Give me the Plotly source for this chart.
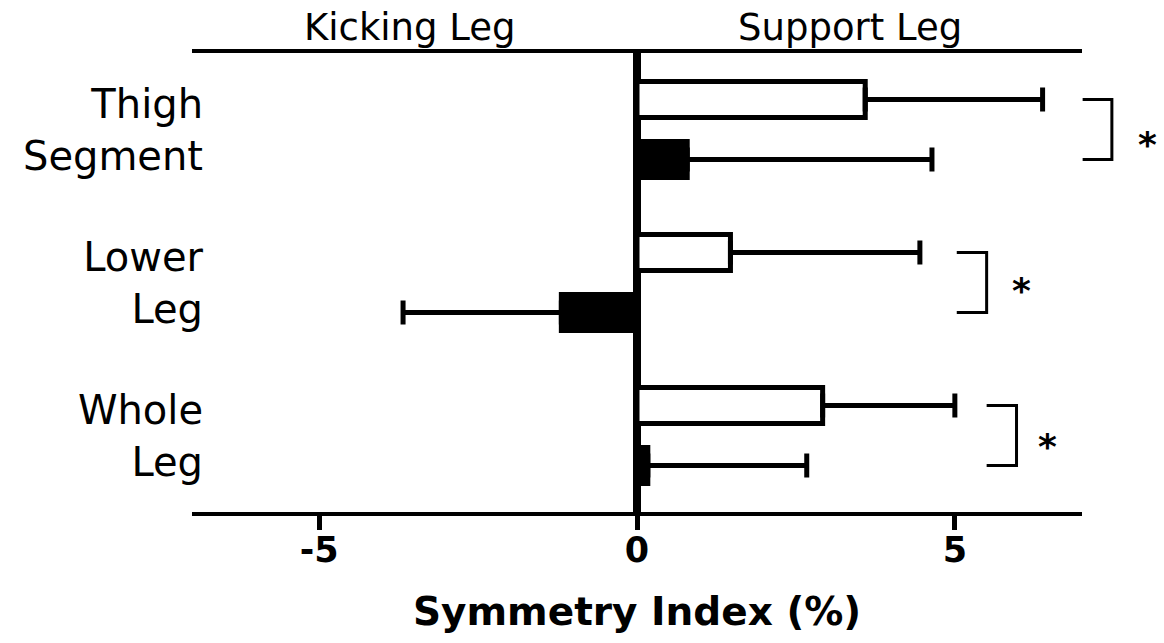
import plotly.graph_objects as go

# ---- data ----
categories = ["Thigh<br>Segment", "Lower<br>Leg", "Whole<br>Leg"]
white_vals = [3.59, 1.47, 2.92]
white_err_plus = [2.79, 2.98, 2.08]
white_err_minus = [0, 0, 0]
black_vals = [0.79, -1.19, 0.17]
black_err_plus = [3.85, 0, 2.50]
black_err_minus = [0, 2.49, 0]
x_ticks = [-5, 0, 5]
x_range = [-7, 7]
side_labels = ["Kicking Leg", "Support Leg"]
side_label_x = [-3.57, 3.35]
# brackets: [x_left, x_right] per category, star x
bracket_x = [[7.01, 7.47], [5.03, 5.50], [5.50, 5.97]]
star_x = [8.03, 6.05, 6.46]
star_dy = [0.10, 0.05, 0.075]

FONT = "DejaVu Sans"
BAR_OFF = 0.196

fig = go.Figure()
fig.add_trace(go.Bar(
    y=categories, x=white_vals, orientation="h",
    marker=dict(color="white", line=dict(color="black", width=5)),
    error_x=dict(type="data", symmetric=False, array=white_err_plus,
                 arrayminus=white_err_minus, color="black", thickness=5, width=12),
    showlegend=False,
))
fig.add_trace(go.Bar(
    y=categories, x=black_vals, orientation="h",
    marker=dict(color="black", line=dict(color="black", width=5)),
    error_x=dict(type="data", symmetric=False, array=black_err_plus,
                 arrayminus=black_err_minus, color="black", thickness=5, width=12),
    showlegend=False,
))

def px_x(v):
    return (v - x_range[0]) / (x_range[1] - x_range[0])

def px_y(v):
    # reversed category axis with range [2.5, -0.5]
    return (2.5 - v) / 3.0

shapes = []
for i, (xl, xr) in enumerate(bracket_x):
    yt = px_y(i - BAR_OFF)
    yb = px_y(i + BAR_OFF)
    shapes.append(dict(
        type="path", xref="paper", yref="paper",
        path=f"M {px_x(xl)},{yt} L {px_x(xr)},{yt} L {px_x(xr)},{yb} L {px_x(xl)},{yb}",
        line=dict(color="black", width=3),
    ))

annotations = []
for lab, lx in zip(side_labels, side_label_x):
    annotations.append(dict(
        x=lx, y=1.0, xref="x", yref="paper", xanchor="center", yanchor="bottom",
        yshift=2, text=lab, showarrow=False,
        font=dict(family=FONT, size=37, color="black"),
    ))
for i, (sx, dy) in enumerate(zip(star_x, star_dy)):
    annotations.append(dict(
        x=px_x(sx), y=px_y(i + dy), xref="paper", yref="paper", text="<b>*</b>",
        xanchor="center", yanchor="middle",
        showarrow=False, font=dict(family=FONT, size=36, color="black"),
    ))

fig.update_layout(
    width=1164, height=643,
    margin=dict(l=192, r=82, t=53, b=131),
    paper_bgcolor="white", plot_bgcolor="white",
    barmode="group", bargap=0.216, bargroupgap=0.40,
    shapes=shapes, annotations=annotations,
    font=dict(family=FONT, color="black"),
)
fig.update_xaxes(
    range=x_range, tickvals=x_ticks, ticktext=[str(t) for t in x_ticks],
    ticks="outside", ticklen=14, tickwidth=5, tickcolor="black",
    showline=True, linewidth=4, linecolor="black", mirror=True,
    showgrid=False, zeroline=True, zerolinewidth=8, zerolinecolor="black",
    ticklabelstandoff=-10,
    tickfont=dict(family=FONT, size=35, color="black", weight="bold"),
    title=dict(text="<b>Symmetry Index (%)</b>", standoff=30,
               font=dict(family=FONT, size=39, color="black")),
)
fig.update_yaxes(
    autorange="reversed", showline=False, showgrid=False, zeroline=False,
    ticks="", ticklabelstandoff=-12,
    tickfont=dict(family=FONT, size=40, color="black"),
)

fig.write_html("out.html")
